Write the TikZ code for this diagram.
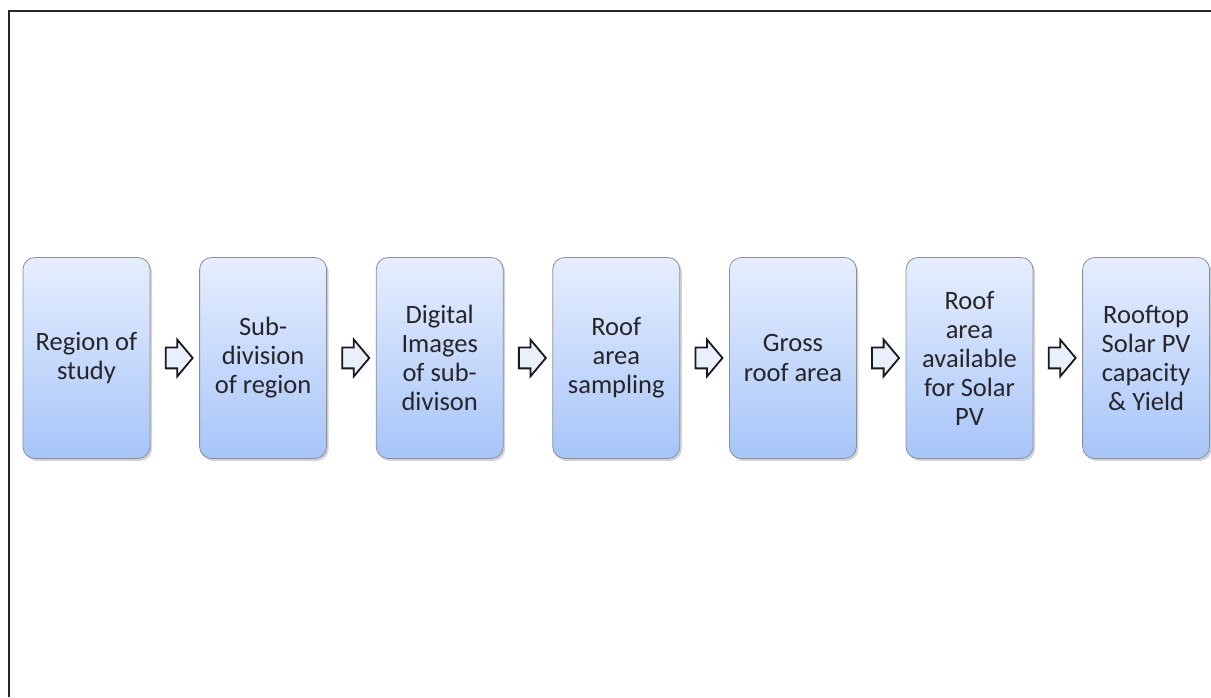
\documentclass[tikz,border=0pt]{standalone}
\usepackage{fontspec}
\setmainfont{Carlito}
\usetikzlibrary{positioning,calc,shapes.arrows,shadows}

\definecolor{boxtop}{HTML}{E6EEFD}
\definecolor{boxbottom}{HTML}{A7C5F9}
\definecolor{boxline}{HTML}{8A8F99}
\definecolor{arrowfill}{HTML}{E9EFFB}
\definecolor{textgrey}{HTML}{262626}

\tikzset{
	stepbox/.style={draw=boxline, line width=0.8pt, rounded corners=12pt,
		top color=boxtop, bottom color=boxbottom,
		drop shadow={shadow xshift=2pt, shadow yshift=-2.5pt, opacity=0.35},
		minimum width=127pt, minimum height=201pt, inner sep=0pt,
		align=center, text=textgrey, font=\fontsize{26.5}{29}\selectfont},
	flowarrow/.style={single arrow, draw=black!90, line width=1.8pt, fill=arrowfill,
		single arrow head extend=8pt, single arrow tip angle=100,
		minimum height=27pt, inner xsep=0pt, inner ysep=9.5pt}
}

\begin{document}
\begin{tikzpicture}[x=1pt,y=1pt, node distance=48.8pt]
			\useasboundingbox (0,0) rectangle (1211,697);
			\draw[line width=2.5pt, color=black!85](9,0) -- (9,686) -- (1211,686);
			\node[stepbox] (region) at (86.5,339) {Region of\\study};
			\node[stepbox, right=of region] (subdiv) {Sub-\\division\\of region};
			\node[stepbox, right=of subdiv] (images) {Digital\\Images\\of sub-\\divison};
			\node[stepbox, right=of images] (sampling) {Roof\\area\\sampling};
			\node[stepbox, right=of sampling] (gross) {Gross\\roof area};
			\node[stepbox, right=of gross] (avail) {Roof\\area\\available\\for Solar\\PV};
			\node[stepbox, right=of avail] (yield) {Rooftop\\Solar PV\\capacity\\\& Yield};
			\node[flowarrow] at ($(region.east)!0.5!(subdiv.west)$) {};
			\node[flowarrow] at ($(subdiv.east)!0.5!(images.west)$) {};
			\node[flowarrow] at ($(images.east)!0.5!(sampling.west)$) {};
			\node[flowarrow] at ($(sampling.east)!0.5!(gross.west)$) {};
			\node[flowarrow] at ($(gross.east)!0.5!(avail.west)$) {};
			\node[flowarrow] at ($(avail.east)!0.5!(yield.west)$) {};
		\end{tikzpicture}
\end{document}
